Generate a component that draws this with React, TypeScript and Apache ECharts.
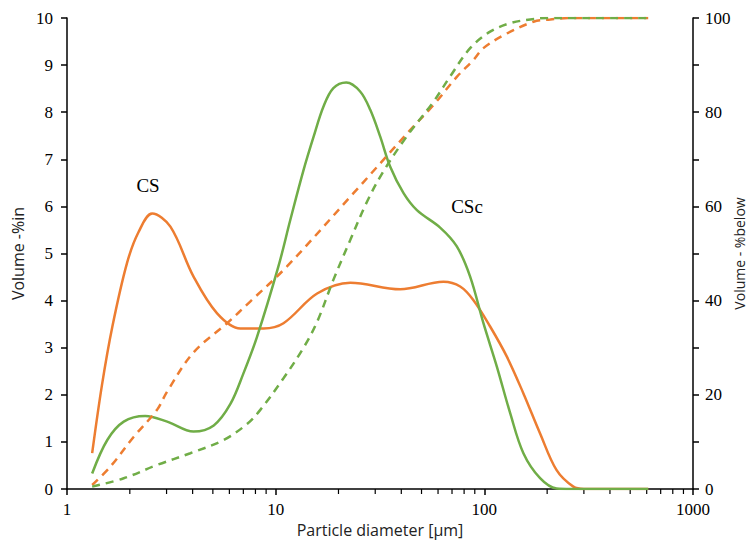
import React, { useEffect, useRef } from "react";
import * as echarts from "echarts";

// Particle diameters (µm) and values
const csDiam = [1.32, 1.47, 1.65, 1.94, 2.2, 2.56, 3.13, 4.04, 5.24, 6.77, 8.75, 10.9, 15.8, 22.8, 39.5, 63.7, 76.6, 88.7, 106.6, 128.2, 153.9, 185, 222, 267, 300, 400, 610];
const csVol = [0.76, 2.2, 3.45, 4.8, 5.45, 5.85, 5.57, 4.51, 3.73, 3.41, 3.41, 3.52, 4.15, 4.38, 4.24, 4.4, 4.3, 4.01, 3.45, 2.81, 2.03, 1.18, 0.4, 0.05, 0, 0, 0];

const cscDiam = [1.32, 1.56, 1.87, 2.37, 3.02, 4.04, 5.05, 6.06, 7.0, 8.14, 10.3, 11.75, 13.6, 15.2, 16.95, 18.9, 21.8, 25.4, 28.4, 31.7, 35.4, 41.0, 47.5, 61.4, 73.8, 85.5, 99, 114.8, 133, 153.9, 185, 222, 260, 400, 610];
const cscVol = [0.33, 1.04, 1.43, 1.55, 1.43, 1.22, 1.35, 1.8, 2.45, 3.23, 4.72, 5.71, 6.77, 7.48, 8.12, 8.51, 8.63, 8.44, 8.05, 7.48, 6.84, 6.28, 5.92, 5.55, 5.15, 4.51, 3.52, 2.6, 1.61, 0.76, 0.23, 0.01, 0, 0, 0];

const csCumDiam = [1.32, 1.61, 2.09, 2.7, 3.02, 4.04, 5.85, 7.55, 11.3, 23.6, 44.1, 57, 73.8, 88.7, 99, 128, 172, 207, 260, 400, 610];
const csCum = [0.85, 4.7, 11.1, 16.8, 20.7, 29.0, 35.2, 39.8, 47.2, 62.8, 76.2, 81.5, 87.5, 91.1, 93.6, 96.7, 99.2, 99.7, 100, 100, 100];

const cscCumDiam = [1.32, 1.87, 2.7, 3.9, 5.63, 7.29, 8.44, 10.9, 13.6, 15.8, 18.9, 22.8, 27.4, 32.9, 42.4, 57, 68.6, 85.5, 106.6, 133, 166, 200, 260, 400, 610];
const cscCum = [0.5, 2.27, 5.1, 7.6, 10.4, 13.8, 16.8, 23.5, 30, 35.5, 44.4, 52.9, 61, 67.5, 74.8, 82.2, 87.6, 93.6, 97.1, 98.9, 99.7, 100, 100, 100, 100];

const xTickLabels = ["1", "10", "100", "1000"];
const minorTicks = [2, 3, 4, 5, 6, 7, 8, 9, 20, 30, 40, 50, 60, 70, 80, 90, 200, 300, 400, 500, 600, 700, 800, 900];

const ORANGE = "#ED7D31";
const GREEN = "#70AD47";
const SERIF = "Liberation Serif";
const SANS = "Open Sans";

const zip = (a: number[], b: number[]) => a.map((v, i) => [v, b[i]]);

export default function App() {
  const ref = useRef<HTMLDivElement>(null);
  useEffect(() => {
    if (!ref.current) return;
    const chart = echarts.init(ref.current, null, { renderer: "svg" });
    const axisLine = { show: true, lineStyle: { color: "#000", width: 1.5 } };
    const tick = { show: true, inside: false, length: 6, lineStyle: { color: "#000", width: 1.5 } };
    const curve = (data: number[][], color: string, yAxisIndex: number, dashed: boolean) => ({
      type: "line",
      yAxisIndex,
      data,
      smooth: 0.35,
      showSymbol: false,
      lineStyle: { color, width: 2.5, type: dashed ? [8, 6] : "solid" },
    });
    chart.setOption({
      animation: false,
      backgroundColor: "#fff",
      grid: { left: 67, right: 61, top: 18, bottom: 56, outerBoundsMode: "none", containLabel: false },
      xAxis: {
        type: "log",
        logBase: 10,
        min: 1,
        max: 1000,
        axisLine: { ...axisLine, onZero: false },
        axisTick: tick,
        splitLine: { show: false },
        axisLabel: {
          color: "#000",
          fontFamily: SERIF,
          fontSize: 17,
          margin: 12,
          formatter: (v: number) => xTickLabels[Math.round(Math.log10(v))] ?? "",
        },
        name: "Particle diameter [μm]",
        nameLocation: "middle",
        nameGap: 33,
        nameMoveOverlap: false,
        nameTextStyle: { color: "#222", fontFamily: SANS, fontSize: 16 },
      },
      yAxis: [
        {
          type: "value",
          min: 0,
          max: 10,
          interval: 1,
          axisLine,
          axisTick: tick,
          splitLine: { show: false },
          axisLabel: { color: "#000", fontFamily: SERIF, fontSize: 17, margin: 14 },
          name: "Volume -%in",
          nameLocation: "middle",
          nameGap: 49,
          nameRotate: 90,
          nameMoveOverlap: false,
          nameTextStyle: { color: "#222", fontFamily: SANS, fontSize: 16, align: "center", verticalAlign: "middle" },
        },
        {
          type: "value",
          min: 0,
          max: 100,
          interval: 10,
          position: "right",
          axisLine,
          axisTick: tick,
          splitLine: { show: false },
          axisLabel: {
            color: "#000",
            fontFamily: SERIF,
            fontSize: 17,
            margin: 12,
            formatter: (v: number) => (v % 20 === 0 ? String(v) : ""),
          },
          name: "Volume - %below",
          nameLocation: "middle",
          nameGap: 46,
          nameRotate: 90,
          nameMoveOverlap: false,
          nameTextStyle: { color: "#222", fontFamily: SANS, fontSize: 14, align: "center", verticalAlign: "middle" },
        },
      ],
      series: [
        {
          type: "custom",
          xAxisIndex: 0,
          yAxisIndex: 0,
          clip: false,
          silent: true,
          data: minorTicks.map((v) => [v, 0]),
          renderItem: (params: any, api: any) => {
            const p = api.coord([api.value(0), 0]);
            return {
              type: "line",
              shape: { x1: p[0], y1: p[1], x2: p[0], y2: p[1] + 5 },
              style: { stroke: "#000", lineWidth: 1.2 },
            };
          },
        },
        curve(zip(csDiam, csVol), ORANGE, 0, false),
        curve(zip(cscDiam, cscVol), GREEN, 0, false),
        curve(zip(csCumDiam, csCum), ORANGE, 1, true),
        curve(zip(cscCumDiam, cscCum), GREEN, 1, true),
      ],
      graphic: [
        { type: "text", x: 148, y: 185, style: { text: "CS", font: `19px ${SERIF}`, fill: "#000", align: "center", verticalAlign: "middle" } },
        { type: "text", x: 467, y: 206, style: { text: "CSc", font: `19px ${SERIF}`, fill: "#000", align: "center", verticalAlign: "middle" } },
      ],
    });
    return () => chart.dispose();
  }, []);
  return <div ref={ref} style={{ width: 754, height: 545, position: "absolute", left: 0, top: 0 }} />;
}
